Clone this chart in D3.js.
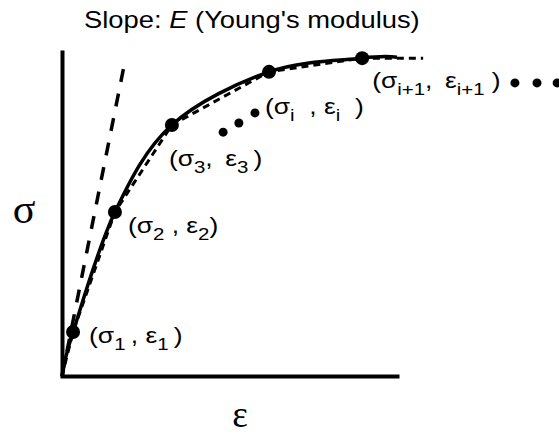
<!DOCTYPE html>
<html>
<head>
<meta charset="utf-8">
<script src="https://cdn.jsdelivr.net/npm/d3@7"></script>
<style>
  html, body { margin: 0; padding: 0; background: #fff; }
  svg { display: block; }
</style>
</head>
<body>
<svg id="chart" width="559" height="435"></svg>
<script>
// ---- data (arbitrary units, 0–100 on both axes) ----
// sampled points on the stress–strain curve
const strain = [0, 3.3, 15.8, 32.8, 61.8, 89.6];
const stress = [0, 13.5, 50.3, 77.0, 93.3, 97.5];
// the smooth curve runs on a little past the last sample
const curveEndStrain = 100;
const curveEndStress = 97.8;
// the piecewise-linear approximation continues level past the last sample
const chordEndStrain = 107.8;
// initial tangent: slope E (Young's modulus)
const tangentStrain = [0, 18.8];
const tangentStress = [0, 96.6];
// "more points" markers
const elidedStrain = [48.1, 52.8, 57.6];
const elidedStress = [74.8, 77.6, 80.7];
const trailingStrain = [135.2, 141.8, 147.8];
const trailingStress = [89.9, 89.9, 89.9];
// point labels, as [text, isSubscript] pieces
const pointLabels = [
  [["(σ", 0], ["1", 1], ["\u2009, ε", 0], ["1", 1], ["\u2009)", 0]],
  [["(σ", 0], ["2", 1], [" , ε", 0], ["2", 1], [")", 0]],
  [["(σ", 0], ["3", 1], [",\u2009 ε", 0], ["3", 1], ["\u2009)", 0]],
  [["(σ", 0], ["i", 1], ["\u00a0 , ε", 0], ["i", 1], ["\u00a0 )", 0]],
  [["(σ", 0], ["i+1", 1], [",\u2009 ε", 0], ["i+1", 1], [" )", 0]]
];
const titleParts = [["Slope: ", 0], ["E", 1], [" (Young's modulus)", 0]];
const xLabel = "ε";
const yLabel = "σ";

// ---- layout ----
const labelOffsets = [[16, 11], [13, 21], [-3, 41], [-4, 42], [10, 30]];
const labelStretch = 1.2;
const titleStretch = 1.19;

const svg = d3.select("#chart");
const x = d3.scaleLinear().domain([0, 100]).range([62, 397]);
const y = d3.scaleLinear().domain([0, 100]).range([376, 50]);

const samples = strain.map((s, i) => ({ e: s, s: stress[i] }));

// axes: bare lines, no ticks
svg.append("g")
  .attr("transform", `translate(${x(0)},0)`)
  .call(d3.axisLeft(y).ticks(0).tickSize(0).tickSizeOuter(0));
const xAxis = svg.append("g")
  .attr("transform", `translate(0,${y(0)})`)
  .call(d3.axisBottom(x).ticks(0).tickSize(0).tickSizeOuter(0));
svg.selectAll(".domain")
  .attr("stroke", "#000")
  .attr("stroke-width", 4);
xAxis.select(".domain").attr("stroke-linecap", "square");

// tangent line at the origin
const lineGen = d3.line().x(d => x(d.e)).y(d => y(d.s));
svg.append("path")
  .datum(tangentStrain.map((e, i) => ({ e, s: tangentStress[i] })))
  .attr("d", lineGen)
  .attr("fill", "none")
  .attr("stroke", "#000")
  .attr("stroke-width", 3.5)
  .attr("stroke-dasharray", "13,12");

// piecewise-linear approximation through the samples
const chord = samples.concat([{ e: chordEndStrain, s: stress[stress.length - 1] }]);
svg.append("path")
  .datum(chord)
  .attr("d", lineGen)
  .attr("fill", "none")
  .attr("stroke", "#000")
  .attr("stroke-width", 3)
  .attr("stroke-dasharray", "7,5");

// smooth stress–strain curve
const smooth = samples.concat([{ e: curveEndStrain, s: curveEndStress }]);
svg.append("path")
  .datum(smooth)
  .attr("d", d3.line().x(d => x(d.e)).y(d => y(d.s)).curve(d3.curveCardinal.tension(0)))
  .attr("fill", "none")
  .attr("stroke", "#000")
  .attr("stroke-width", 3.5);

// sample points (skip the origin)
const pts = samples.slice(1);
svg.selectAll("circle.pt")
  .data(pts)
  .join("circle")
  .attr("class", "pt")
  .attr("cx", d => x(d.e))
  .attr("cy", d => y(d.s))
  .attr("r", 7)
  .attr("fill", "#000");

// ellipsis markers
const smallDots = elidedStrain.map((e, i) => ({ e, s: elidedStress[i] }))
  .concat(trailingStrain.map((e, i) => ({ e, s: trailingStress[i] })));
svg.selectAll("circle.more")
  .data(smallDots)
  .join("circle")
  .attr("class", "more")
  .attr("cx", d => x(d.e))
  .attr("cy", d => y(d.s))
  .attr("r", 4.5)
  .attr("fill", "#000");

// point labels
const sans = "'Liberation Sans', Arial, Helvetica, sans-serif";
pts.forEach((d, i) => {
  const g = svg.append("g")
    .attr("transform", `translate(${x(d.e) + labelOffsets[i][0]},${y(d.s) + labelOffsets[i][1]}) scale(${labelStretch},1)`);
  const t = g.append("text")
    .attr("font-family", sans)
    .attr("font-size", 22)
    .attr("fill", "#000");
  let lowered = false;
  pointLabels[i].forEach(([txt, sub]) => {
    const ts = t.append("tspan").text(txt);
    if (sub) {
      ts.attr("font-size", 17);
      if (!lowered) { ts.attr("dy", 7); lowered = true; }
    } else if (lowered) {
      ts.attr("dy", -7);
      lowered = false;
    }
  });
});

// title
const title = svg.append("g")
  .attr("transform", `translate(84,28) scale(${titleStretch},1)`)
  .append("text")
  .attr("font-family", sans)
  .attr("font-size", 23)
  .attr("fill", "#000");
titleParts.forEach(([txt, it]) => {
  title.append("tspan").text(txt).attr("font-style", it ? "italic" : null);
});

// axis labels
const serif = "'Liberation Serif', 'Times New Roman', serif";
svg.append("text")
  .attr("x", 24).attr("y", 223)
  .attr("text-anchor", "middle")
  .attr("font-family", serif)
  .attr("font-size", 42)
  .attr("fill", "#000")
  .text(yLabel);
svg.append("text")
  .attr("x", 240).attr("y", 427)
  .attr("text-anchor", "middle")
  .attr("font-family", serif)
  .attr("font-size", 37)
  .attr("fill", "#000")
  .text(xLabel);
</script>
</body>
</html>
